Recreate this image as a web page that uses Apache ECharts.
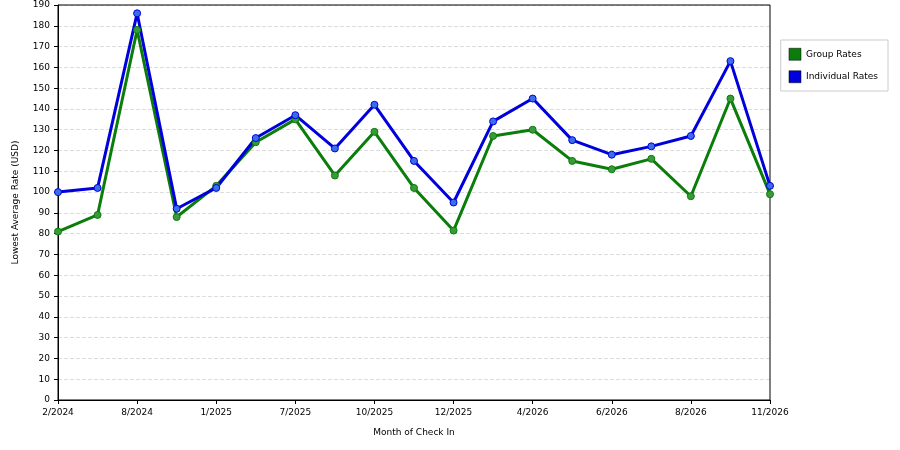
<!DOCTYPE html>
<html><head><meta charset="utf-8">
<script src="https://cdn.jsdelivr.net/npm/echarts@6/dist/echarts.min.js"></script>
<style>body{margin:0}#c{width:900px;height:450px}</style></head>
<body><div id="c"></div>
<script>
const categories=["2/2024","5/2024","8/2024","11/2024","1/2025","4/2025","7/2025","9/2025","10/2025","11/2025","12/2025","2/2026","4/2026","5/2026","6/2026","7/2026","8/2026","10/2026","11/2026"];
const groupRates=[81,89,178,88,103,124,135,108,129,102,81.5,127,130,115,111,116,98,145,99];
const individualRates=[100,102,186,92,102,126,137,121,142,115,95,134,145,125,118,122,127,163,103];
const chart=echarts.init(document.getElementById('c'));
const mk=(name,data,color,edge)=>({name,type:'line',data,symbol:'circle',symbolSize:7,
 lineStyle:{color,width:3},itemStyle:{color:edge,borderColor:color,borderWidth:1},color});
chart.setOption({
 animation:false,
 textStyle:{fontFamily:'DejaVu Sans'},
 grid:{left:58,right:130,top:5,bottom:50,containLabel:false},
 legend:{orient:'vertical',right:12,top:40,itemWidth:12,itemHeight:12,icon:'rect',
  backgroundColor:'#fff',borderColor:'#ccc',borderWidth:1,padding:[8,10,8,8],itemGap:10,
  textStyle:{fontSize:9,color:'#000'},
  data:[{name:'Group Rates',itemStyle:{color:'#0a7d0a',borderColor:'#000',borderWidth:0.5}},
        {name:'Individual Rates',itemStyle:{color:'#0000dd',borderColor:'#000',borderWidth:0.5}}]},
 xAxis:{type:'category',data:categories,boundaryGap:false,name:'Month of Check In',nameLocation:'middle',nameGap:28,
  nameTextStyle:{fontSize:9},axisLine:{lineStyle:{color:'#000'}},
  axisTick:{interval:1,length:4,lineStyle:{color:'#000'}},
  axisLabel:{interval:1,fontSize:9,color:'#000'},splitLine:{show:false}},
 yAxis:{type:'value',min:0,max:190,interval:10,name:'Lowest Average Rate (USD)',nameLocation:'middle',nameGap:38,
  nameTextStyle:{fontSize:9},axisLine:{show:true,lineStyle:{color:'#000'}},axisTick:{show:true,length:4,lineStyle:{color:'#000'}},
  axisLabel:{fontSize:9,color:'#000'},splitLine:{lineStyle:{type:'dashed',color:'#ddd'}}},
 series:[mk('Group Rates',groupRates,'#0a7d0a','#3a9a3a'),mk('Individual Rates',individualRates,'#0000dd','#3a6ee8')]
});
chart.setOption({graphic:[{type:'rect',shape:{x:58,y:5,width:712,height:395},style:{fill:'none',stroke:'#000',lineWidth:1},silent:true}]});
</script></body></html>
